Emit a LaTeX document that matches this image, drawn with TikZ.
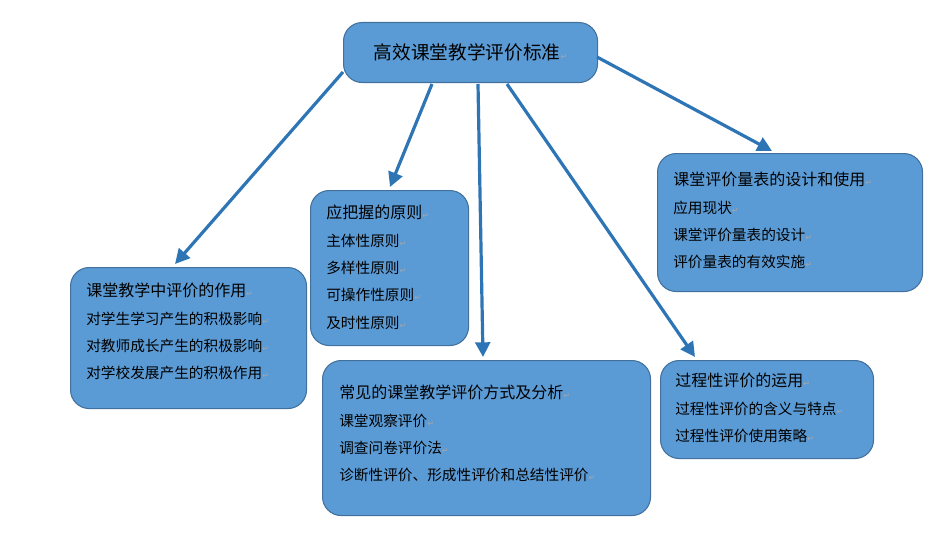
\documentclass[tikz,border=0pt]{standalone}
\usepackage{fontspec}
\setmainfont{Noto Sans CJK SC}
\newfontfamily\symfont{DejaVu Sans}
\usetikzlibrary{arrows.meta}
\definecolor{boxfill}{HTML}{5B9BD5}
\definecolor{boxline}{HTML}{41719C}
\definecolor{arrowblue}{HTML}{2E75B6}
\newcommand{\ret}{{\color{gray!70}\symfont\fontsize{6}{6}\selectfont ↵}}
\tikzset{
  box/.style={draw=boxline, line width=0.8pt, fill=boxfill, rounded corners=14pt, anchor=north west, inner sep=0pt},
  txt/.style={anchor=north west, align=left, inner sep=0pt, font=\fontsize{11}{20.5}\selectfont},
  link/.style={arrowblue, line width=2.4pt, -{Triangle[length=11pt,width=11pt]}}
}
\begin{document}
\begin{tikzpicture}[x=0.75pt,y=-0.75pt]
	\useasboundingbox (0,0) rectangle (950,535);
	% title
	\node[box, minimum width=254*0.75pt, minimum height=60*0.75pt] (title) at (343,22) {};
	\node[font=\fontsize{14}{14}\selectfont] (titletxt) at (title.center) {高效课堂教学评价标准\ret};
	
	% boxes
	\node[box, minimum width=236*0.75pt, minimum height=141*0.75pt] (role) at (70,267) {};
	\node[txt] (roletxt) at (86,283) {{\fontsize{12}{12}\selectfont 课堂教学中评价的作用}\ret\\对学生学习产生的积极影响\ret\\对教师成长产生的积极影响\ret\\对学校发展产生的积极作用\ret};
	
	\node[box, minimum width=158*0.75pt, minimum height=155*0.75pt] (rule) at (310,190) {};
	\node[txt] (ruletxt) at (326,205) {{\fontsize{12}{12}\selectfont 应把握的原则}\ret\\主体性原则\ret\\多样性原则\ret\\可操作性原则\ret\\及时性原则\ret};
	
	\node[box, minimum width=328*0.75pt, minimum height=155*0.75pt] (mode) at (322,360) {};
	\node[txt] (modetxt) at (339,385) {{\fontsize{12}{12}\selectfont 常见的课堂教学评价方式及分析}\ret\\课堂观察评价\ret\\调查问卷评价法\ret\\诊断性评价、形成性评价和总结性评价\ret};
	
	\node[box, minimum width=265*0.75pt, minimum height=138*0.75pt] (scale) at (657,153) {};
	\node[txt] (scaletxt) at (673,172) {{\fontsize{12}{12}\selectfont 课堂评价量表的设计和使用}\ret\\应用现状\ret\\课堂评价量表的设计\ret\\评价量表的有效实施\ret};
	
	\node[box, minimum width=213*0.75pt, minimum height=98*0.75pt] (proc) at (660,360) {};
	\node[txt] (proctxt) at (675,373) {{\fontsize{12}{12}\selectfont 过程性评价的运用}\ret\\过程性评价的含义与特点\ret\\过程性评价使用策略\ret};
	
	% arrows
	\coordinate (a1) at (343,72);
	\coordinate (a2) at (432,84);
	\coordinate (a3) at (478,84);
	\coordinate (a4) at (507,84);
	\coordinate (a5) at (597,57);
	\coordinate (b1) at (175,264);
	\coordinate (b2) at (390,187);
	\coordinate (b3) at (483,357);
	\coordinate (b4) at (695,357);
	\coordinate (b5) at (772,151);
	\foreach \i in {1,...,5}
	\draw[link] (a\i) -- (b\i);
\end{tikzpicture}
\end{document}
